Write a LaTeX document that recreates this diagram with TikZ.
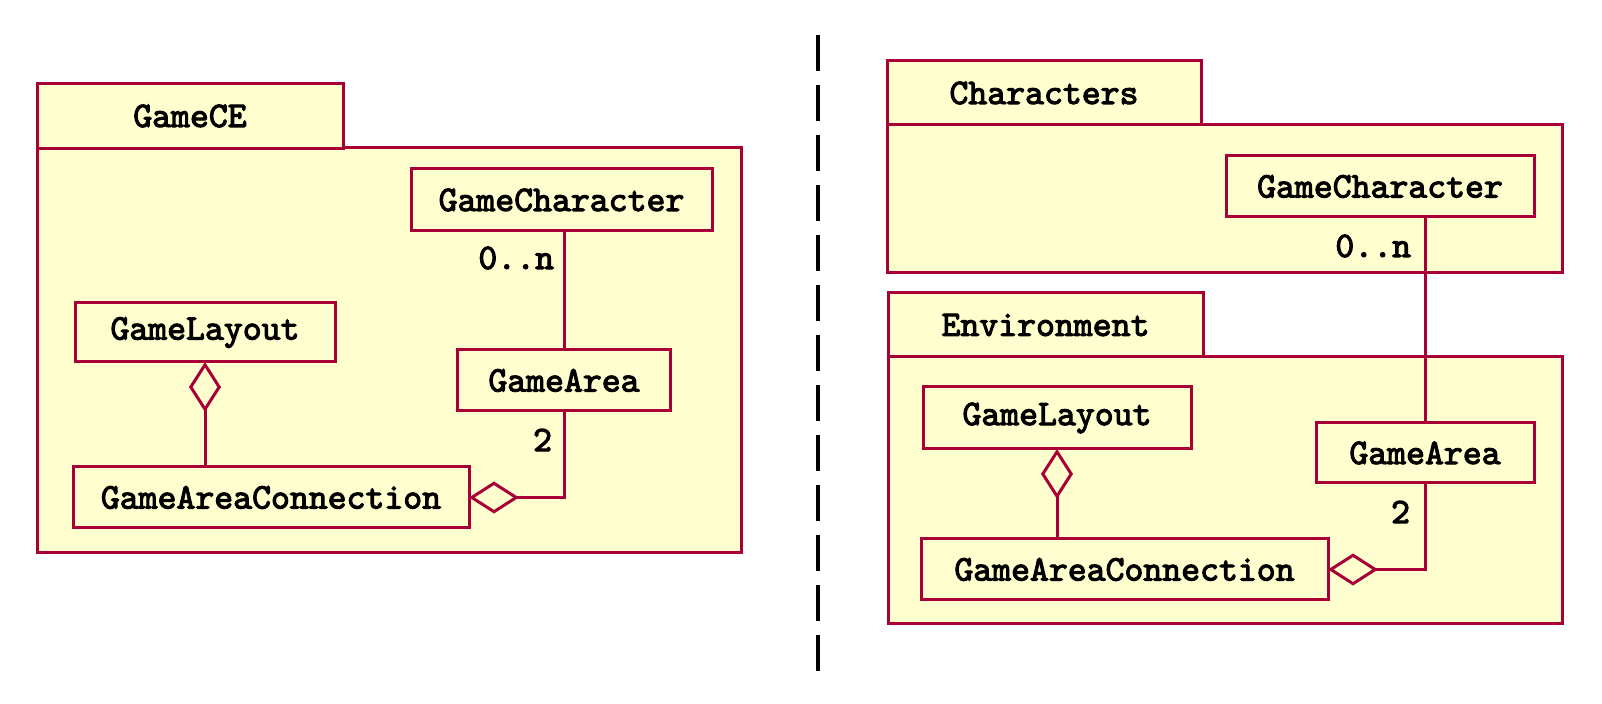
\documentclass[tikz,border=0pt]{standalone}
\usepackage{fontspec}
\newfontfamily\courfont{lmmono10-regular.otf}[FakeBold=3]
\usetikzlibrary{arrows.meta}
\definecolor{umlred}{HTML}{A80036}
\definecolor{umlfill}{HTML}{FEFECE}
\tikzset{
  txt/.style={font=\courfont\fontsize{18}{21}\selectfont, text=black},
  cls/.style={txt, draw=umlred, fill=umlfill, line width=1.5pt, rectangle, inner sep=0pt, outer sep=0pt, anchor=center},
  pkgtab/.style={txt, draw=umlred, fill=umlfill, line width=1.5pt, rectangle, inner sep=0pt, outer sep=0pt, anchor=center},
  pkgbody/.style={draw=umlred, fill=umlfill, line width=1.5pt, rectangle, inner sep=0pt, outer sep=0pt, anchor=north west},
  conn/.style={draw=umlred, line width=1.5pt},
  agg/.style={conn, -{Diamond[open, fill=umlfill, length=25pt, width=16pt, line width=1.5pt]}},
  mult/.style={txt, inner sep=0pt, outer sep=0pt},
  sep/.style={draw=black, line width=2pt, dash pattern=on 18pt off 7pt}
}
\begin{document}
\begin{tikzpicture}[x=0.5pt, y=-0.5pt]
\useasboundingbox (0,0) rectangle (1602,704);

% ---------- left: GameCE ----------
\node[pkgbody, minimum width=352pt, minimum height=202.5pt] (ceBody) at (37,148) {};
\node[pkgtab, minimum width=153pt, minimum height=32.5pt] (ceTab) at (190,116) {GameCE};

\node[cls, minimum width=150.5pt, minimum height=31pt] (lGC) at (561.5,200) {GameCharacter};
\node[cls, minimum width=106.5pt, minimum height=30.5pt] (lGA) at (564,380.5) {GameArea};
\node[cls, minimum width=130pt, minimum height=29.5pt] (lGL) at (205,332.5) {GameLayout};
\node[cls, minimum width=198pt, minimum height=30.5pt] (lGAC) at (271,497.5) {GameAreaConnection};

\draw[conn] (lGC.south -| lGA.north) -- (lGA.north);
\draw[agg] (lGL.south |- lGAC.north) -- (lGL.south);
\draw[agg] (lGA.south) |- (lGAC.east);
\node[mult, anchor=east] (lMn) at ([xshift=-5pt, yshift=-13.5pt]lGA.north |- lGC.south) {0..n};
\node[mult, anchor=east] (lM2) at ([xshift=-6pt, yshift=-14.5pt]lGA.south) {2};

% ---------- separator ----------
\coordinate (sepTop) at (818,35);
\coordinate (sepBot) at (818,671);
\draw[sep] (sepTop) -- (sepBot);

% ---------- right: Characters ----------
\node[pkgbody, minimum width=337.5pt, minimum height=74pt] (chBody) at (887,125) {};
\node[pkgtab, minimum width=157pt, minimum height=32pt] (chTab) at (1044,93) {Characters};
\node[cls, minimum width=154pt, minimum height=30.5pt] (rGC) at (1380,186.5) {GameCharacter};

% ---------- right: Environment ----------
\node[pkgbody, minimum width=337pt, minimum height=133.5pt] (enBody) at (888,357) {};
\node[pkgtab, minimum width=157.5pt, minimum height=32pt] (enTab) at (1045.5,325) {Environment};
\node[cls, minimum width=109pt, minimum height=30pt] (rGA) at (1425,453) {GameArea};
\node[cls, minimum width=134pt, minimum height=31pt] (rGL) at (1057,418) {GameLayout};
\node[cls, minimum width=203.5pt, minimum height=30.5pt] (rGAC) at (1124.5,569.5) {GameAreaConnection};

\draw[conn] (rGA.north |- rGC.south) -- (rGA.north);
\draw[agg] (rGL.south |- rGAC.north) -- (rGL.south);
\draw[agg] (rGA.south) |- (rGAC.east);
\node[mult, anchor=east] (rMn) at ([xshift=-7pt, yshift=-14.5pt]rGA.north |- rGC.south) {0..n};
\node[mult, anchor=east] (rM2) at ([xshift=-7.5pt, yshift=-14.5pt]rGA.south) {2};
\end{tikzpicture}
\end{document}
